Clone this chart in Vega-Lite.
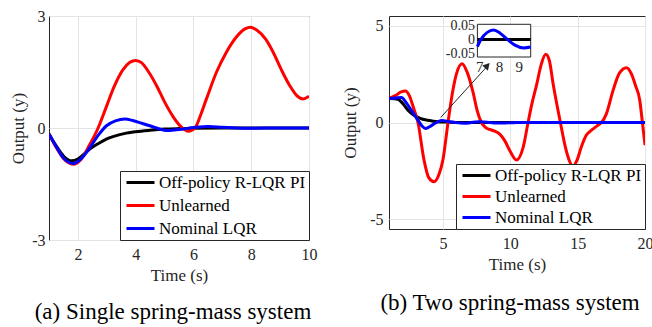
{
  "$schema": "https://vega.github.io/schema/vega-lite/v6.json",
  "padding": {"left": 9, "top": 7, "right": 0, "bottom": 0},
  "background": "white",
  "config": {
    "font": "Liberation Serif, Times New Roman, serif",
    "style": {"guide-label": {"font": "Liberation Serif, Times New Roman, serif"}, "guide-title": {"font": "Liberation Serif, Times New Roman, serif"}},
    "view": {"stroke": "#262626", "strokeWidth": 1},
    "axis": {
      "grid": true, "gridColor": "#e4e4e4", "gridWidth": 1, "domain": false, "ticks": false, "labelFlush": false,
      "labelFont": "Liberation Serif, Times New Roman, serif", "labelFontSize": 16, "labelColor": "#262626", "labelPadding": 6,
      "titleFont": "Liberation Serif, Times New Roman, serif", "titleFontSize": 17, "titleFontWeight": "normal", "titleColor": "#262626", "titlePadding": 5
    },
    "legend": {
      "labelFont": "Liberation Serif, Times New Roman, serif", "labelFontSize": 17, "labelColor": "black",
      "symbolType": "M-2,0H2", "symbolStrokeWidth": 3, "symbolSize": 196, "symbolOffset": 9,
      "strokeColor": "#262626", "fillColor": "white", "padding": 3, "rowPadding": 5, "labelOffset": 10
    },
    "title": {"font": "Liberation Serif, Times New Roman, serif", "fontSize": 23, "fontWeight": "normal", "color": "black"}
  },
  "datasets": {
    "a": [
      {"t":1,"y":-0.16,"s":"k"},{"t":1.25,"y":-0.48,"s":"k"},{"t":1.5,"y":-0.75,"s":"k"},{"t":1.78,"y":-0.88,"s":"k"},{"t":2.0,"y":-0.83,"s":"k"},{"t":2.2,"y":-0.71,"s":"k"},{"t":2.42,"y":-0.56,"s":"k"},{"t":2.7,"y":-0.42,"s":"k"},{"t":3.0,"y":-0.29,"s":"k"},{"t":3.3,"y":-0.21,"s":"k"},{"t":3.6,"y":-0.15,"s":"k"},{"t":4.0,"y":-0.1,"s":"k"},{"t":4.5,"y":-0.06,"s":"k"},{"t":5.0,"y":-0.03,"s":"k"},{"t":5.5,"y":-0.015,"s":"k"},{"t":6.0,"y":-0.005,"s":"k"},{"t":7,"y":0,"s":"k"},{"t":8,"y":0,"s":"k"},{"t":9,"y":0,"s":"k"},{"t":10,"y":0,"s":"k"},
      {"t":1,"y":-0.16,"s":"r"},{"t":1.25,"y":-0.52,"s":"r"},{"t":1.5,"y":-0.82,"s":"r"},{"t":1.84,"y":-0.97,"s":"r"},{"t":2.1,"y":-0.85,"s":"r"},{"t":2.42,"y":-0.43,"s":"r"},{"t":2.7,"y":0.0,"s":"r"},{"t":3.0,"y":0.6,"s":"r"},{"t":3.25,"y":1.1,"s":"r"},{"t":3.55,"y":1.55,"s":"r"},{"t":3.8,"y":1.76,"s":"r"},{"t":4.0,"y":1.81,"s":"r"},{"t":4.2,"y":1.75,"s":"r"},{"t":4.45,"y":1.5,"s":"r"},{"t":4.72,"y":1.14,"s":"r"},{"t":5.0,"y":0.7,"s":"r"},{"t":5.3,"y":0.3,"s":"r"},{"t":5.55,"y":0.05,"s":"r"},{"t":5.82,"y":-0.09,"s":"r"},{"t":6.05,"y":0.0,"s":"r"},{"t":6.25,"y":0.35,"s":"r"},{"t":6.45,"y":0.78,"s":"r"},{"t":6.8,"y":1.5,"s":"r"},{"t":7.14,"y":2.03,"s":"r"},{"t":7.5,"y":2.45,"s":"r"},{"t":7.8,"y":2.66,"s":"r"},{"t":7.97,"y":2.7,"s":"r"},{"t":8.2,"y":2.62,"s":"r"},{"t":8.5,"y":2.38,"s":"r"},{"t":8.76,"y":2.03,"s":"r"},{"t":9.05,"y":1.55,"s":"r"},{"t":9.33,"y":1.14,"s":"r"},{"t":9.6,"y":0.85,"s":"r"},{"t":9.8,"y":0.78,"s":"r"},{"t":10,"y":0.85,"s":"r"},
      {"t":1,"y":-0.16,"s":"b"},{"t":1.25,"y":-0.5,"s":"b"},{"t":1.5,"y":-0.8,"s":"b"},{"t":1.84,"y":-0.95,"s":"b"},{"t":2.1,"y":-0.83,"s":"b"},{"t":2.42,"y":-0.52,"s":"b"},{"t":2.7,"y":-0.2,"s":"b"},{"t":2.99,"y":0.06,"s":"b"},{"t":3.3,"y":0.19,"s":"b"},{"t":3.63,"y":0.24,"s":"b"},{"t":3.9,"y":0.2,"s":"b"},{"t":4.2,"y":0.13,"s":"b"},{"t":4.49,"y":0.06,"s":"b"},{"t":4.8,"y":-0.02,"s":"b"},{"t":5.06,"y":-0.07,"s":"b"},{"t":5.4,"y":-0.05,"s":"b"},{"t":5.8,"y":-0.01,"s":"b"},{"t":6.2,"y":0.03,"s":"b"},{"t":6.5,"y":0.04,"s":"b"},{"t":7.0,"y":0.02,"s":"b"},{"t":7.5,"y":0.0,"s":"b"},{"t":8,"y":-0.005,"s":"b"},{"t":9,"y":0,"s":"b"},{"t":10,"y":0,"s":"b"}
    ],
    "b": [
      {"t":1,"y":1.24,"s":"k"},{"t":1.4,"y":1.23,"s":"k"},{"t":1.67,"y":1.2,"s":"k"},{"t":2.0,"y":1.0,"s":"k"},{"t":2.41,"y":0.63,"s":"k"},{"t":2.8,"y":0.4,"s":"k"},{"t":3.15,"y":0.26,"s":"k"},{"t":3.5,"y":0.17,"s":"k"},{"t":3.9,"y":0.12,"s":"k"},{"t":4.3,"y":0.07,"s":"k"},{"t":4.64,"y":0.04,"s":"k"},{"t":5.2,"y":0.02,"s":"k"},{"t":6,"y":0.005,"s":"k"},{"t":6.9,"y":0,"s":"k"},{"t":8,"y":0,"s":"k"},{"t":9,"y":0,"s":"k"},{"t":9.6,"y":0,"s":"k"},{"t":10,"y":0,"s":"k"},{"t":12,"y":0,"s":"k"},{"t":14,"y":0,"s":"k"},{"t":16,"y":0,"s":"k"},{"t":18,"y":0,"s":"k"},{"t":20,"y":0,"s":"k"},
      {"t":1,"y":1.24,"s":"r"},{"t":1.5,"y":1.4,"s":"r"},{"t":1.9,"y":1.58,"s":"r"},{"t":2.22,"y":1.63,"s":"r"},{"t":2.5,"y":1.4,"s":"r"},{"t":2.8,"y":0.8,"s":"r"},{"t":3.15,"y":0.0,"s":"r"},{"t":3.6,"y":-1.94,"s":"r"},{"t":3.95,"y":-2.85,"s":"r"},{"t":4.34,"y":-3.06,"s":"r"},{"t":4.7,"y":-2.7,"s":"r"},{"t":5.0,"y":-1.94,"s":"r"},{"t":5.38,"y":0.0,"s":"r"},{"t":5.7,"y":1.5,"s":"r"},{"t":6.0,"y":2.5,"s":"r"},{"t":6.42,"y":3.04,"s":"r"},{"t":6.8,"y":2.6,"s":"r"},{"t":7.24,"y":1.55,"s":"r"},{"t":7.55,"y":0.6,"s":"r"},{"t":7.86,"y":0.0,"s":"r"},{"t":8.15,"y":-0.25,"s":"r"},{"t":8.47,"y":-0.36,"s":"r"},{"t":8.85,"y":-0.45,"s":"r"},{"t":9.22,"y":-0.6,"s":"r"},{"t":9.6,"y":-0.95,"s":"r"},{"t":10.0,"y":-1.5,"s":"r"},{"t":10.46,"y":-1.94,"s":"r"},{"t":10.95,"y":-1.3,"s":"r"},{"t":11.32,"y":0.0,"s":"r"},{"t":11.6,"y":0.95,"s":"r"},{"t":11.94,"y":1.9,"s":"r"},{"t":12.3,"y":3.0,"s":"r"},{"t":12.63,"y":3.52,"s":"r"},{"t":12.9,"y":3.2,"s":"r"},{"t":13.18,"y":2.0,"s":"r"},{"t":13.72,"y":0.0,"s":"r"},{"t":14.1,"y":-1.3,"s":"r"},{"t":14.4,"y":-2.0,"s":"r"},{"t":14.66,"y":-2.25,"s":"r"},{"t":14.95,"y":-1.95,"s":"r"},{"t":15.28,"y":-1.25,"s":"r"},{"t":15.65,"y":-0.65,"s":"r"},{"t":16.03,"y":-0.4,"s":"r"},{"t":16.5,"y":-0.14,"s":"r"},{"t":16.77,"y":0.0,"s":"r"},{"t":17.14,"y":0.46,"s":"r"},{"t":17.63,"y":1.66,"s":"r"},{"t":18.1,"y":2.55,"s":"r"},{"t":18.62,"y":2.83,"s":"r"},{"t":19.0,"y":2.5,"s":"r"},{"t":19.3,"y":1.9,"s":"r"},{"t":19.61,"y":1.15,"s":"r"},{"t":19.8,"y":0.05,"s":"r"},{"t":20,"y":-1.17,"s":"r"},
      {"t":1,"y":1.24,"s":"b"},{"t":1.5,"y":1.27,"s":"b"},{"t":1.92,"y":1.29,"s":"b"},{"t":2.3,"y":1.0,"s":"b"},{"t":2.66,"y":0.63,"s":"b"},{"t":3.15,"y":0.12,"s":"b"},{"t":3.45,"y":-0.18,"s":"b"},{"t":3.7,"y":-0.31,"s":"b"},{"t":4.0,"y":-0.22,"s":"b"},{"t":4.39,"y":-0.05,"s":"b"},{"t":4.65,"y":0.05,"s":"b"},{"t":4.93,"y":0.1,"s":"b"},{"t":5.2,"y":0.08,"s":"b"},{"t":5.5,"y":0.04,"s":"b"},{"t":5.9,"y":0.0,"s":"b"},{"t":6.3,"y":-0.03,"s":"b"},{"t":6.6,"y":-0.035,"s":"b"},{"t":6.9,"y":-0.025,"s":"b"},{"t":7.08,"y":0.0,"s":"b"},{"t":7.4,"y":0.025,"s":"b"},{"t":7.72,"y":0.033,"s":"b"},{"t":8.05,"y":0.022,"s":"b"},{"t":8.42,"y":0.0,"s":"b"},{"t":8.8,"y":-0.02,"s":"b"},{"t":9.25,"y":-0.03,"s":"b"},{"t":9.6,"y":-0.027,"s":"b"},{"t":10,"y":-0.015,"s":"b"},{"t":10.5,"y":0.0,"s":"b"},{"t":11,"y":0.005,"s":"b"},{"t":12,"y":0,"s":"b"},{"t":14,"y":0,"s":"b"},{"t":16,"y":0,"s":"b"},{"t":18,"y":0,"s":"b"},{"t":20,"y":0,"s":"b"}
    ]
  },
  "bounds": "flush",
  "spacing": 80,
  "resolve": {"legend": {"color": "independent"}, "scale": {"color": "independent"}},
  "hconcat": [
    {
      "width": 260, "height": 224,
      "title": {"text": "(a) Single spring-mass system", "orient": "bottom", "frame": "group", "anchor": "middle", "dx": -6, "offset": 18},
      "data": {"name": "a"},
      "mark": {"type": "line", "strokeWidth": 3, "interpolate": "monotone", "clip": true},
      "encoding": {
        "x": {"field": "t", "type": "quantitative", "scale": {"domain": [1, 10], "nice": false, "zero": false}, "axis": {"values": [2, 4, 6, 8, 10], "title": "Time (s)", "labelFlush": false}},
        "y": {"field": "y", "type": "quantitative", "scale": {"domain": [-3, 3], "nice": false}, "axis": {"values": [-3, 0, 3], "title": "Output (y)", "labelExpr": "replace(datum.label, '−', '-')", "labelPadding": 4, "titlePadding": 4}},
        "color": {"field": "s", "type": "nominal", "scale": {"domain": ["k", "r", "b"], "range": ["#000000", "#ff0000", "#0000ff"]},
          "legend": {"title": null, "orient": "bottom-right", "offset": 0, "rowPadding": 5, "labelExpr": "datum.value == 'k' ? 'Off-policy R-LQR PI' : datum.value == 'r' ? 'Unlearned' : 'Nominal LQR'"}}
      }
    },
    {
      "width": 256, "height": 213,
      "title": {"text": "(b) Two spring-mass system", "orient": "bottom", "frame": "group", "anchor": "middle", "dx": -7, "offset": 20},
      "layer": [
        {
          "layer": [
            {
              "data": {"name": "b"},
              "mark": {"type": "line", "strokeWidth": 3, "interpolate": "monotone", "clip": true},
              "encoding": {
                "x": {"field": "t", "type": "quantitative", "scale": {"domain": [1, 20], "nice": false, "zero": false}, "axis": {"values": [5, 10, 15, 20], "title": "Time (s)", "orient": "bottom", "labelFlush": false}},
                "y": {"field": "y", "type": "quantitative", "scale": {"domain": [-5.5, 5.5], "nice": false}, "axis": {"values": [-5, 0, 5], "title": "Output (y)", "orient": "left", "labelExpr": "replace(datum.label, '−', '-')", "labelPadding": 6, "titlePadding": 10}},
                "color": {"field": "s", "type": "nominal", "scale": {"domain": ["k", "r", "b"], "range": ["#000000", "#ff0000", "#0000ff"]},
                  "legend": {"title": null, "orient": "bottom-right", "offset": 0, "rowPadding": 3, "labelExpr": "datum.value == 'k' ? 'Off-policy R-LQR PI' : datum.value == 'r' ? 'Unlearned' : 'Nominal LQR'"}}
              }
            },
            {
              "data": {"values": [{}]},
              "mark": {"type": "rule", "color": "#262626", "strokeWidth": 1},
              "encoding": {"x": {"datum": 4.84, "type": "quantitative"}, "y": {"datum": 0.26, "type": "quantitative"}, "x2": {"datum": 8.35}, "y2": {"datum": 2.95}}
            },
            {
              "data": {"values": [{}]},
              "mark": {"type": "point", "shape": "triangle-up", "filled": true, "color": "#262626", "size": 60, "angle": 43, "opacity": 1},
              "encoding": {"x": {"datum": 8.3, "type": "quantitative"}, "y": {"datum": 2.94, "type": "quantitative"}}
            }
          ]
        },
        {
          "layer": [
            {
              "data": {"values": [{}]},
              "mark": {"type": "rect", "fill": "white", "stroke": "#262626", "strokeWidth": 1},
              "encoding": {"x": {"datum": 6.9, "type": "quantitative"}, "x2": {"datum": 9.6}, "y": {"datum": -0.062, "type": "quantitative"}, "y2": {"datum": 0.0535}}
            },
            {
              "data": {"name": "b"},
              "transform": [{"filter": "datum.t >= 6.9 && datum.t <= 9.6 && datum.s != 'r'"}],
              "mark": {"type": "line", "strokeWidth": 3, "interpolate": "monotone"},
              "encoding": {
                "x": {"field": "t", "type": "quantitative", "scale": {"domain": [6.9, 9.6], "range": [88.4, 141.7], "nice": false, "zero": false},
                  "axis": {"orient": "bottom", "offset": -172, "values": [7, 8, 9], "format": "d", "labelFontSize": 15, "labelOverlap": false, "labelBound": false, "labelFlush": false, "grid": false, "title": null, "labelPadding": 2}},
                "y": {"field": "y", "type": "quantitative", "scale": {"domain": [-0.062, 0.0535], "range": [41, 8.3], "nice": false, "zero": false},
                  "axis": {"orient": "left", "offset": -88.4, "values": [-0.05, 0, 0.05], "format": "~g", "labelFontSize": 14, "labelOverlap": false, "labelBound": false, "labelFlush": false, "grid": false, "title": null, "labelPadding": 3, "labelExpr": "replace(datum.label, '−', '-')"}},
                "color": {"field": "s", "type": "nominal", "legend": null}
              }
            }
          ]
        }
      ],
      "resolve": {"scale": {"x": "independent", "y": "independent"}, "axis": {"x": "independent", "y": "independent"}}
    }
  ]
}
